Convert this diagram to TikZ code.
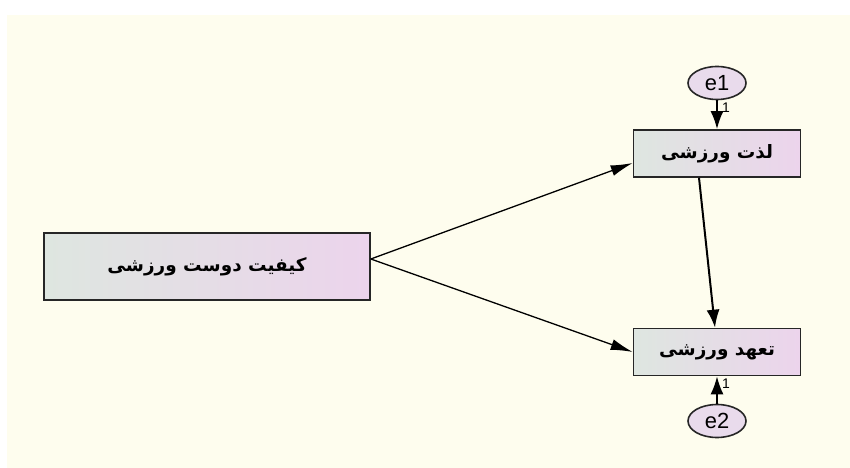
\documentclass[tikz,border=0pt]{standalone}
\usepackage{fontspec}
\setmainfont{Liberation Sans}
\newfontfamily\farsi[Script=Arabic]{DejaVu Sans}
\TeXXeTstate=1
\usepackage{tikz}
\usetikzlibrary{shapes,arrows.meta}
\definecolor{paper}{RGB}{254,253,238}
\definecolor{boxleft}{RGB}{222,230,224}
\definecolor{boxright}{RGB}{236,212,236}
\definecolor{errfill}{RGB}{233,219,236}

\begin{document}
\begin{tikzpicture}[x=1bp,y=-1bp]
	\def \errtop{83}
	\def \rowone{153.5}
	\def \middle{266.5}
	\def \rowtwo{352}
	\def \errbot{421}

	\tikzstyle{obs}=[rectangle,draw=black!85,line width=1.6bp,left color=boxleft,right color=boxright,inner sep=0pt,minimum width=167bp,minimum height=47bp,font=\farsi\bfseries\fontsize{18.5}{20}\selectfont]
	\tikzstyle{big-obs}=[obs,minimum width=326bp,minimum height=67bp]
	\tikzstyle{err}=[ellipse,draw=black!85,line width=1.6bp,fill=errfill,inner sep=0pt,minimum width=58bp,minimum height=33bp,font=\fontsize{22}{24}\selectfont]
	\tikzstyle{path}=[line width=1.3bp,-{Latex[length=22bp,width=11bp]}]
	\tikzstyle{err-path}=[line width=2bp,-{Latex[length=18bp,width=13bp]}]
	\tikzstyle{weight}=[font=\fontsize{14}{15}\selectfont,inner sep=1bp]

	% background
	\useasboundingbox (0,0) rectangle (850,468);
	\fill[paper] (7,15) rectangle (850,468);

	% observed variables
	\node[big-obs]	(kq)	at (207,\middle)	{\beginR کیفیت دوست ورزشی\endR};
	\node[obs]	(lz)	at (717,\rowone)	{\beginR لذت ورزشی\endR};
	\node[obs]	(th)	at (717,\rowtwo)	{\beginR تعهد ورزشی\endR};

	% error terms
	\node[err]	(e1)	at (717,\errtop)	{e1};
	\node[err]	(e2)	at (717,\errbot)	{e2};

	\coordinate (kq-out) at ([yshift=7.5bp]kq.east);
	\coordinate (lz-in) at ([yshift=-9.5bp]lz.west);
	\coordinate (lz-out) at ([xshift=-18bp]lz.south);
	\coordinate (th-in) at ([xshift=-2bp]th.north);

	\path
		(kq-out)	edge[path]	(lz-in)
		(kq-out)	edge[path]	(th.west)
		(lz-out)	edge[err-path]	(th-in)
		(e1)	edge[err-path]	node[weight,pos=0.25,right,xshift=3bp] {1}	(lz)
		(e2)	edge[err-path]	node[weight,pos=0.72,right,xshift=3bp] {1}	(th);
\end{tikzpicture}
\end{document}
